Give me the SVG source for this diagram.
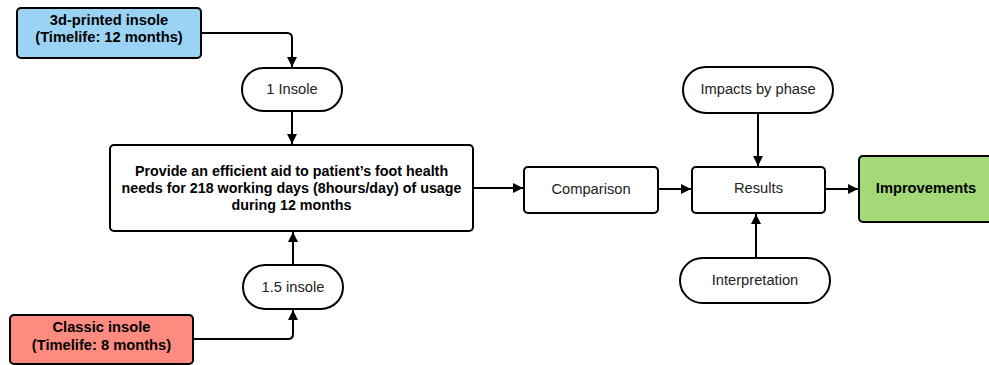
<svg xmlns="http://www.w3.org/2000/svg" width="989" height="365" viewBox="0 0 989 365">
<defs>
<style>
.box{stroke:#000;stroke-width:2;fill:#fff}
.pill{stroke:#000;stroke-width:2;fill:#fff}
.t{font-family:"Liberation Sans",Arial,sans-serif;font-size:14.7px;fill:#222;text-anchor:middle;dominant-baseline:central}
.b{font-family:"Liberation Sans",Arial,sans-serif;font-size:14.7px;font-weight:bold;fill:#000;text-anchor:middle;dominant-baseline:central}
.m{font-size:14.3px}
.c{fill:none;stroke:#000;stroke-width:2}
</style>
<marker id="ah" viewBox="0 0 10 10" refX="10" refY="5" markerWidth="10" markerHeight="10" markerUnits="userSpaceOnUse" orient="auto">
<path d="M0,0 L10,5 L0,10 z" fill="#000"/>
</marker>
</defs>
<rect width="989" height="365" fill="#fff"/>
<g id="connectors">
<path class="c" d="M201,33 H287 Q292,33 292,38 V67" marker-end="url(#ah)"/>
<path class="c" d="M292,111 V144" marker-end="url(#ah)"/>
<path class="c" d="M193,339 H288 Q293,339 293,334 V310" marker-end="url(#ah)"/>
<path class="c" d="M293,265 V232" marker-end="url(#ah)"/>
<path class="c" d="M473,188 H523" marker-end="url(#ah)"/>
<path class="c" d="M658,189 H691" marker-end="url(#ah)"/>
<path class="c" d="M825,189 H858" marker-end="url(#ah)"/>
<path class="c" d="M758,113 V166" marker-end="url(#ah)"/>
<path class="c" d="M756,258 V214" marker-end="url(#ah)"/>
</g>
<g id="printed">
<rect x="17" y="8" width="184" height="50" rx="4" stroke="#000" stroke-width="2" fill="#9ad3f3"/>
<text class="b" x="109" y="20">3d-printed insole</text>
<text class="b" x="109" y="37">(Timelife: 12 months)</text>
</g>
<g id="one-insole">
<rect class="pill" x="242" y="68" width="100" height="43" rx="21.5"/>
<text class="t" x="292" y="89">1 Insole</text>
</g>
<g id="main">
<rect class="box" x="110" y="145" width="363" height="86" rx="4"/>
<text class="b m" x="291.5" y="171">Provide an efficient aid to patient’s foot health</text>
<text class="b m" x="291.5" y="188">needs for 218 working days (8hours/day) of usage</text>
<text class="b m" x="291.5" y="205">during 12 months</text>
</g>
<g id="onefive-insole">
<rect class="pill" x="243" y="265" width="100" height="44" rx="22"/>
<text class="t" x="293" y="287">1.5 insole</text>
</g>
<g id="classic">
<rect x="10" y="315" width="183" height="49" rx="4" stroke="#000" stroke-width="2" fill="#fe8b80"/>
<text class="b" x="101.5" y="327">Classic insole</text>
<text class="b" x="101.5" y="345">(Timelife: 8 months)</text>
</g>
<g id="comparison">
<rect class="box" x="524" y="167" width="134" height="46" rx="4"/>
<text class="t" x="591" y="189">Comparison</text>
</g>
<g id="results">
<rect class="box" x="692" y="167" width="133" height="46" rx="4"/>
<text class="t" x="758.5" y="188">Results</text>
</g>
<g id="improvements">
<rect x="859" y="156" width="134" height="66" rx="4" stroke="#000" stroke-width="2" fill="#a3d977"/>
<text class="b" x="926" y="188">Improvements</text>
</g>
<g id="impacts">
<rect class="pill" x="683" y="67" width="150" height="46" rx="23"/>
<text class="t" x="758" y="89">Impacts by phase</text>
</g>
<g id="interpretation">
<rect class="pill" x="680" y="258" width="150" height="45" rx="22.5"/>
<text class="t" x="755" y="280">Interpretation</text>
</g>
</svg>
